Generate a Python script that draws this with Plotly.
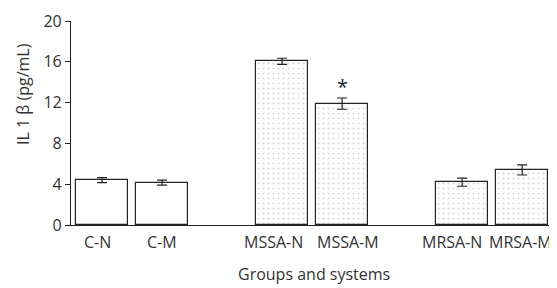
import plotly.graph_objects as go

categories = ["C-N", "C-M", "MSSA-N", "MSSA-M", "MRSA-N", "MRSA-M"]
positions = [0, 1, 3, 4, 6, 7]
values = [4.4, 4.15, 16.05, 11.9, 4.2, 5.4]
errors = [0.25, 0.25, 0.3, 0.55, 0.4, 0.5]
patterned = [False, False, True, True, True, True]
y_ticks = [0, 4, 8, 12, 16, 20]

font = "Open Sans, DejaVu Sans, sans-serif"
txt = "#333333"
# label placement (layout only): anchor side and offset from bar centre
label_anchor = ["center", "center", "right", "left", "right", "left"]
label_shift = [-0.07, 0.0, 0.38, -0.45, 0.37, -0.58]

fig = go.Figure()
fig.add_trace(go.Bar(
    x=positions, y=values, width=0.865,
    marker=dict(
        color="white",
        line=dict(color="#222222", width=1.2),
        pattern=dict(
            shape=["." if p else "" for p in patterned],
            fgcolor="#b0b0b0", bgcolor="white", size=5, solidity=0.15,
        ),
    ),
    error_y=dict(type="data", array=errors, color="#222222", thickness=1.2, width=5),
    showlegend=False,
    cliponaxis=False,
))

sig_idx = 3
fig.add_annotation(x=positions[sig_idx], y=values[sig_idx] + errors[sig_idx],
                   text="*", showarrow=False, yanchor="bottom", yshift=-4,
                   font=dict(family=font, size=20, color="#222222"))

for p, c, a, s in zip(positions, categories, label_anchor, label_shift):
    fig.add_annotation(x=p + s, y=0, yref="y", text=c, showarrow=False,
                       xanchor=a, yanchor="top", yshift=-4,
                       font=dict(family=font, size=16, color=txt))

fig.add_annotation(x=0.5, y=0, xref="paper", yref="paper", yanchor="middle",
                   yshift=-49, text="Groups and systems", showarrow=False,
                   font=dict(family=font, size=16, color=txt))
fig.add_annotation(x=0, y=0.642, xref="paper", yref="paper", xanchor="center",
                   xshift=-48, text="IL 1 β (pg/mL)", textangle=-90,
                   showarrow=False, font=dict(family=font, size=16, color=txt))

# page body adds an 8px offset, so the figure is sized to fit the window
fig.update_layout(
    width=549, height=280,
    margin=dict(l=63, r=0, t=13, b=63),
    paper_bgcolor="white", plot_bgcolor="white",
    font=dict(family=font, size=16, color=txt),
    bargap=0,
)
fig.update_xaxes(
    range=[-0.517, 7.58], automargin=False,
    showticklabels=False,
    ticks="", showgrid=False, zeroline=False,
    showline=True, linecolor="#222222", linewidth=1.2,
)
fig.update_yaxes(
    range=[0, 20], tickmode="array", tickvals=y_ticks, automargin=False,
    ticks="outside", ticklen=5, tickcolor="#222222", tickwidth=1.2,
    showgrid=False, zeroline=False,
    showline=True, linecolor="#222222", linewidth=1.2,
    tickfont=dict(size=16, color=txt),
)

fig.write_html("out.html")
